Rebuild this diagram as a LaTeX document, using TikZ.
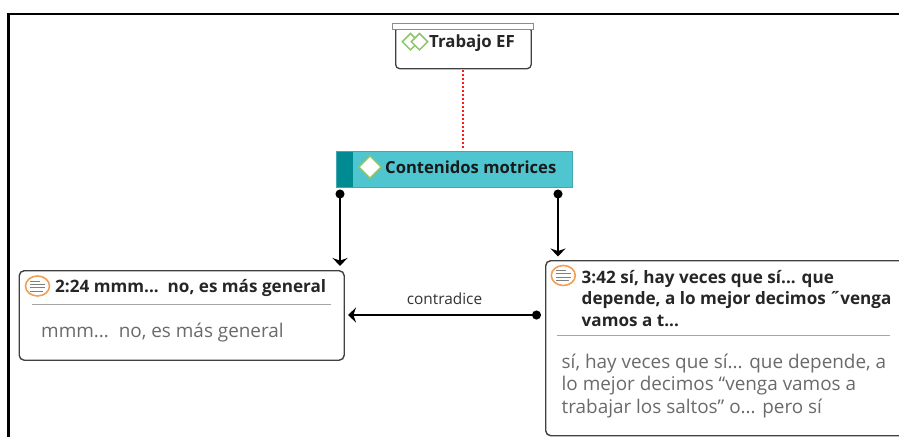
\documentclass[tikz,border=0pt]{standalone}
\usepackage{fontspec}
\setmainfont{Open Sans}
\usetikzlibrary{positioning}
\usetikzlibrary{arrows.meta}
\usetikzlibrary{shapes.geometric}
\definecolor{tealbox}{HTML}{4EC5CF}
\definecolor{tealdark}{HTML}{008B92}
\definecolor{quoteorange}{HTML}{EE9F58}
\definecolor{diamondgreen}{HTML}{8CC668}
\definecolor{bodygrey}{HTML}{6A6A6A}
\tikzset{
  cita/.style={draw=black!75,line width=1.4pt,rounded corners=5pt,anchor=north west,inner sep=0pt},
  head/.style={anchor=west,inner sep=0pt,font=\fontsize{17.1}{21.5}\selectfont\bfseries,align=left,text=black!85},
  body/.style={anchor=west,inner sep=0pt,font=\fontsize{18.9}{22.5}\selectfont,align=left,text=bodygrey},
  rule/.style={draw=black!35,line width=.9pt},
  rombo/.style={diamond,draw=diamondgreen,line width=1.5pt,fill=white,inner sep=0pt,minimum size=#1},
  quoteicon/.style={ellipse,draw=quoteorange,line width=1.6pt,fill=white,inner sep=0pt,minimum width=24pt,minimum height=20pt},
  liga/.style={{Circle[length=9pt]}-{Stealth[length=8pt,width=15pt]},line width=1.4pt,black},
}
\newcommand{\iconlines}[1]{
  \foreach \dy/\w in {-5/13,-1.7/15,1.7/15,5/10}
    \draw[black!50,line width=.9pt] ([xshift=-7.5pt,yshift=\dy pt]#1.center) -- ++(\w,0);
}
\begin{document}
\begin{tikzpicture}[x=1pt,y=-1pt]
  \useasboundingbox (0,0) rectangle (899,437);

  % outer frame
  \coordinate (frameA) at (8.5,437);
  \coordinate (frameB) at (8.5,14);
  \coordinate (frameC) at (899,14);
  \draw[line width=2.2pt,black] (frameA) -- (frameB) -- (frameC);

  % group
  \node[draw=black!75,line width=1.3pt,rounded corners=4pt,minimum width=135.5pt,minimum height=42pt,inner sep=0pt,anchor=north west] (trabajo) at (395,26) {};
  \node[draw=black!45,line width=1pt,fill=white,minimum width=141pt,minimum height=6pt,inner sep=0pt,anchor=north west] (tapa) at (392,23) {};
  \node[rombo=17pt] (romboB) at (410.5,41.7) {};
  \node[rombo=17pt] (romboA) at (419.5,41.7) {};
  \node[anchor=west,inner sep=0pt,font=\fontsize{16.8}{18}\selectfont\bfseries,text=black!85] (trabajotxt) at (429,43) {Trabajo EF};

  % code
  \node[fill=tealbox,draw=tealbox!85!black,line width=.5pt,minimum width=236pt,minimum height=35.5pt,inner sep=0pt,anchor=north west] (contenidos) at (336,151) {};
  \node[fill=tealdark,minimum width=16pt,minimum height=35pt,inner sep=0pt,anchor=north west] (franja) at (336.3,151.3) {};
  \node[rombo=23pt] (rombo) at (370,167) {};
  \node[anchor=west,inner sep=0pt,font=\fontsize{16.6}{18}\selectfont\bfseries,text=black!90] (contenidostxt) at (385,167) {Contenidos motrices};

  % quotes
  \node[cita,minimum width=325pt,minimum height=89.5pt] (cita2) at (18.5,270) {};
  \node[quoteicon] (icono2) at (37.5,286) {};
  \iconlines{icono2}
  \node[head] (cita2head) at (55,288) {2:24 mmm...~~no, es más general};
  \coordinate (cita2a) at (32,304.5);
  \coordinate (cita2b) at (331,304.5);
  \draw[rule] (cita2a) -- (cita2b);
  \node[body] (cita2body) at (41,332.5) {mmm...~~no, es más general};

  \node[cita,minimum width=365pt,minimum height=175pt] (cita3) at (545,260) {};
  \node[quoteicon] (icono3) at (563.3,275.5) {};
  \iconlines{icono3}
  \node[head,anchor=north west] (cita3head) at (581.5,270) {3:42 sí, hay veces que sí... que\\depende, a lo mejor decimos ˝venga\\vamos a t...};
  \coordinate (cita3a) at (557,335);
  \coordinate (cita3b) at (890,335);
  \draw[rule] (cita3a) -- (cita3b);
  \node[body,anchor=north west] (cita3body) at (561.5,353.5) {sí, hay veces que sí... que depende, a\\lo mejor decimos “venga vamos a\\trabajar los saltos” o... pero sí};

  % links
  \coordinate (puntoA) at (340,189.5);
  \coordinate (puntoB) at (558,189.5);
  \coordinate (finA) at (340,266);
  \coordinate (finB) at (558,256.5);
  \coordinate (puntoC) at (541,315);
  \coordinate (finC) at (348,315);
  \coordinate (redA) at (463,70);
  \coordinate (redB) at (463,149);
  \draw[red!90!white,line width=1.5pt,dash pattern=on 2pt off 2pt] (redA) -- (redB);
  \draw[liga] (puntoA) -- (finA);
  \draw[liga] (puntoB) -- (finB);
  \draw[liga] (puntoC) -- node[above=10pt,inner sep=0pt,font=\fontsize{15.4}{17}\selectfont,text=black!80] (contradice) {contradice} (finC);
\end{tikzpicture}
\end{document}
